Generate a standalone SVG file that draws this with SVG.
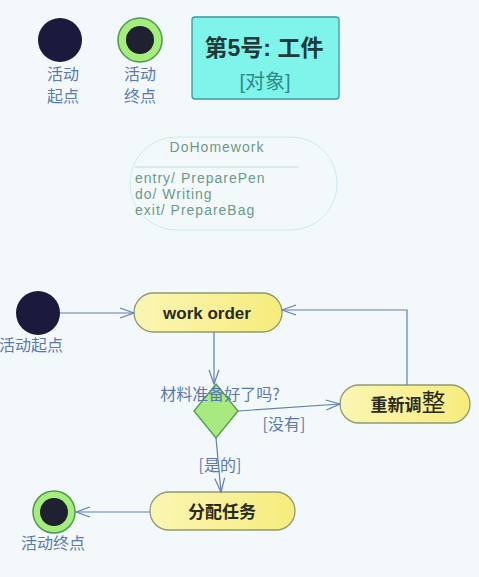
<svg xmlns="http://www.w3.org/2000/svg" width="479" height="577" viewBox="0 0 479 577">
<defs>
<linearGradient id="yel" x1="0" y1="0" x2="1" y2="0">
<stop offset="0" stop-color="#fbf6b4"/>
<stop offset="1" stop-color="#f6ec7c"/>
</linearGradient>
<marker id="open" markerWidth="16" markerHeight="12" refX="15" refY="6" orient="auto" markerUnits="userSpaceOnUse">
<path d="M1,1 L15,6 L1,11" fill="none" stroke="#5f7fb6" stroke-width="1.2"/>
</marker>
</defs>
<style>
.lbl{font-family:"Noto Sans CJK SC","Liberation Sans",sans-serif;font-size:16px;fill:#5b78b0;text-anchor:middle}
.act{fill:url(#yel);stroke:#8f9a70;stroke-width:1.3}
.atxt{font-family:"Liberation Sans","Noto Sans CJK SC",sans-serif;font-size:17px;font-weight:bold;fill:#2a2a1a;text-anchor:middle}
.start{fill:#1c1a3c}
.endo{fill:#a6ee7c;stroke:#4f9a50;stroke-width:1.5}
.endi{fill:#1f2030}
.conn{fill:none;stroke:#5f7fb6;stroke-width:1.2}
.st{font-family:"Liberation Sans",sans-serif;font-size:14px;fill:#6d9a88;letter-spacing:1px}
</style>
<rect width="479" height="577" fill="#f3f9fb"/>

<g id="legend-start">
<circle class="start" cx="60" cy="40" r="22"/>
<text class="lbl" x="63" y="80">活动</text>
<text class="lbl" x="63" y="102">起点</text>
</g>
<g id="legend-end">
<circle class="endo" cx="140" cy="40" r="22"/>
<circle class="endi" cx="140" cy="40" r="14"/>
<text class="lbl" x="140" y="80">活动</text>
<text class="lbl" x="140" y="102">终点</text>
</g>
<g id="object">
<rect x="192" y="17" width="147" height="82" rx="3" fill="#7ef4ea" stroke="#3a9aa0" stroke-width="1.3"/>
<text x="264" y="56" font-family="Liberation Sans,Noto Sans CJK SC,sans-serif" font-size="23" font-weight="bold" fill="#1f3a3a" text-anchor="middle">第5号: 工件</text>
<text x="265" y="89" font-family="Liberation Sans,Noto Sans CJK SC,sans-serif" font-size="20" fill="#2e8a8a" text-anchor="middle">[对象]</text>
</g>
<g id="state">
<rect x="130" y="137" width="207" height="93" rx="46" fill="none" stroke="#c8ecef" stroke-width="1"/>
<text class="st" x="217" y="152" text-anchor="middle">DoHomework</text>
<line x1="135" y1="167" x2="298" y2="167" stroke="#b8dcd8" stroke-width="1"/>
<text class="st" x="135" y="183">entry/ PreparePen</text>
<text class="st" x="135" y="199">do/ Writing</text>
<text class="st" x="135" y="215">exit/ PrepareBag</text>
</g>

<g id="start">
<circle class="start" cx="38" cy="313" r="22"/>
<text class="lbl" x="31" y="351">活动起点</text>
</g>
<g id="work-order">
<rect class="act" x="134" y="293" width="148" height="39" rx="19.5"/>
<text class="atxt" x="207" y="319">work order</text>
</g>
<g id="decision">
<polygon points="216,384 238,411 216,438 194,411" fill="#a8ea80" stroke="#4f9a50" stroke-width="1.3"/>
</g>
<g id="readjust">
<rect class="act" x="340" y="385" width="130" height="38" rx="19"/>
<text class="atxt" x="408" y="411">重新调<tspan font-size="24" font-weight="normal">整</tspan></text>
</g>
<g id="assign">
<rect class="act" x="150" y="492" width="145" height="38" rx="19"/>
<text class="atxt" x="222" y="518" font-size="18">分配任务</text>
</g>
<g id="end">
<circle class="endo" cx="54" cy="512" r="21"/>
<circle class="endi" cx="54" cy="512" r="14"/>
<text class="lbl" x="53" y="549">活动终点</text>
</g>

<g id="connectors">
<line class="conn" x1="60" y1="313" x2="134" y2="313" marker-end="url(#open)"/>
<line class="conn" x1="214" y1="332" x2="214" y2="384" marker-end="url(#open)"/>
<line class="conn" x1="238" y1="411" x2="340" y2="404" marker-end="url(#open)"/>
<polyline class="conn" points="407,385 407,310 282,310" marker-end="url(#open)"/>
<line class="conn" x1="216" y1="438" x2="221" y2="492" marker-end="url(#open)"/>
<line class="conn" x1="150" y1="512" x2="76" y2="512" marker-end="url(#open)"/>
<text class="lbl" x="220" y="400">材料准备好了吗?</text>
<text class="lbl" x="284" y="430">[没有]</text>
<text class="lbl" x="220" y="471">[是的]</text>
</g>
</svg>
